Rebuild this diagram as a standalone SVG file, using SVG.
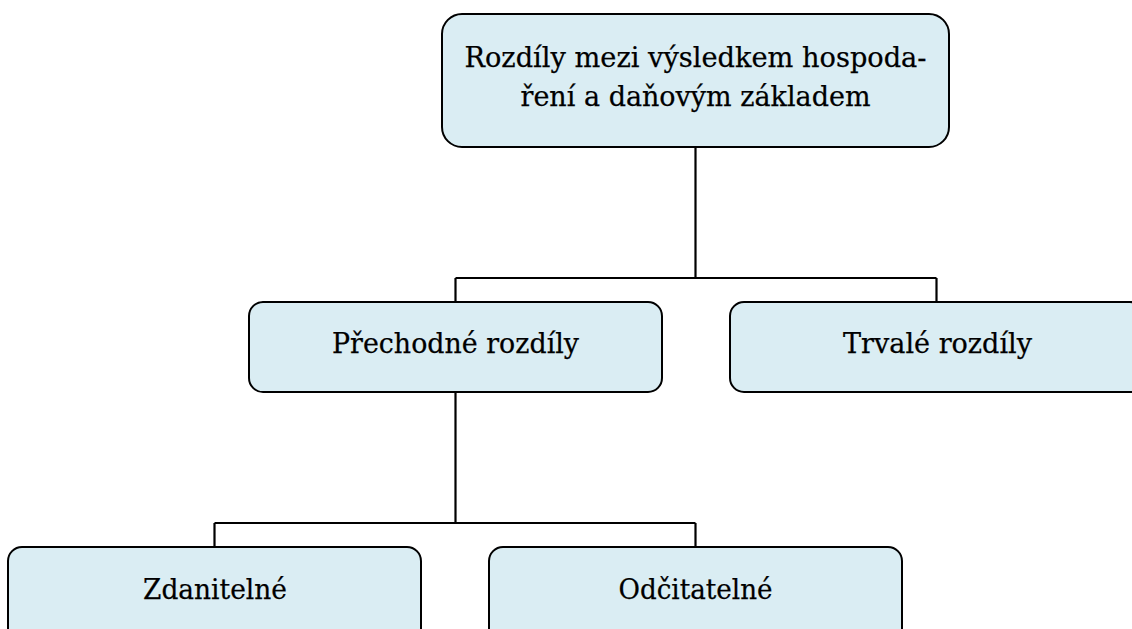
<svg xmlns="http://www.w3.org/2000/svg" width="1132" height="629" viewBox="0 0 1132 629">
  <style>
    .box { fill: #DAEDF3; stroke: #000; stroke-width: 2; }
    .lbl { font-family: "DejaVu Serif", "Liberation Serif", serif; font-size: 28px; fill: #000; stroke: #000; stroke-width: 0.25; text-anchor: middle; }
    .wire { fill: none; stroke: #000; stroke-width: 2.2; }
  </style>
  <rect width="1132" height="629" fill="#fff"/>

  <!-- tree connectors -->
  <g id="connectors">
    <path class="wire" d="M695.5 147 V278 M455.5 278 H936.5 M455.5 278 V302 M936.5 278 V302"/>
    <path class="wire" d="M455.5 392 V523 M214.5 523 H695.5 M214.5 523 V547 M695.5 523 V547"/>
  </g>

  <g id="root">
    <rect class="box" x="442" y="14" width="507" height="133" rx="20"/>
    <text class="lbl" x="695.5" y="67" textLength="462" lengthAdjust="spacingAndGlyphs">Rozdíly mezi výsledkem hospoda-</text>
    <text class="lbl" x="695.5" y="106" textLength="350" lengthAdjust="spacingAndGlyphs">ření a daňovým základem</text>
  </g>

  <g id="prechodne">
    <rect class="box" x="249" y="302" width="413" height="90" rx="14"/>
    <text class="lbl" x="455.5" y="353" textLength="247" lengthAdjust="spacingAndGlyphs">Přechodné rozdíly</text>
  </g>

  <g id="trvale">
    <rect class="box" x="730" y="302" width="414" height="90" rx="14"/>
    <text class="lbl" x="937.5" y="353" textLength="189" lengthAdjust="spacingAndGlyphs">Trvalé rozdíly</text>
  </g>

  <g id="zdanitelne">
    <rect class="box" x="8" y="547" width="413" height="100" rx="14"/>
    <text class="lbl" x="215" y="598.5" textLength="144" lengthAdjust="spacingAndGlyphs">Zdanitelné</text>
  </g>

  <g id="odcitatelne">
    <rect class="box" x="489" y="547" width="413" height="100" rx="14"/>
    <text class="lbl" x="695.5" y="598.5" textLength="154" lengthAdjust="spacingAndGlyphs">Odčitatelné</text>
  </g>
</svg>
